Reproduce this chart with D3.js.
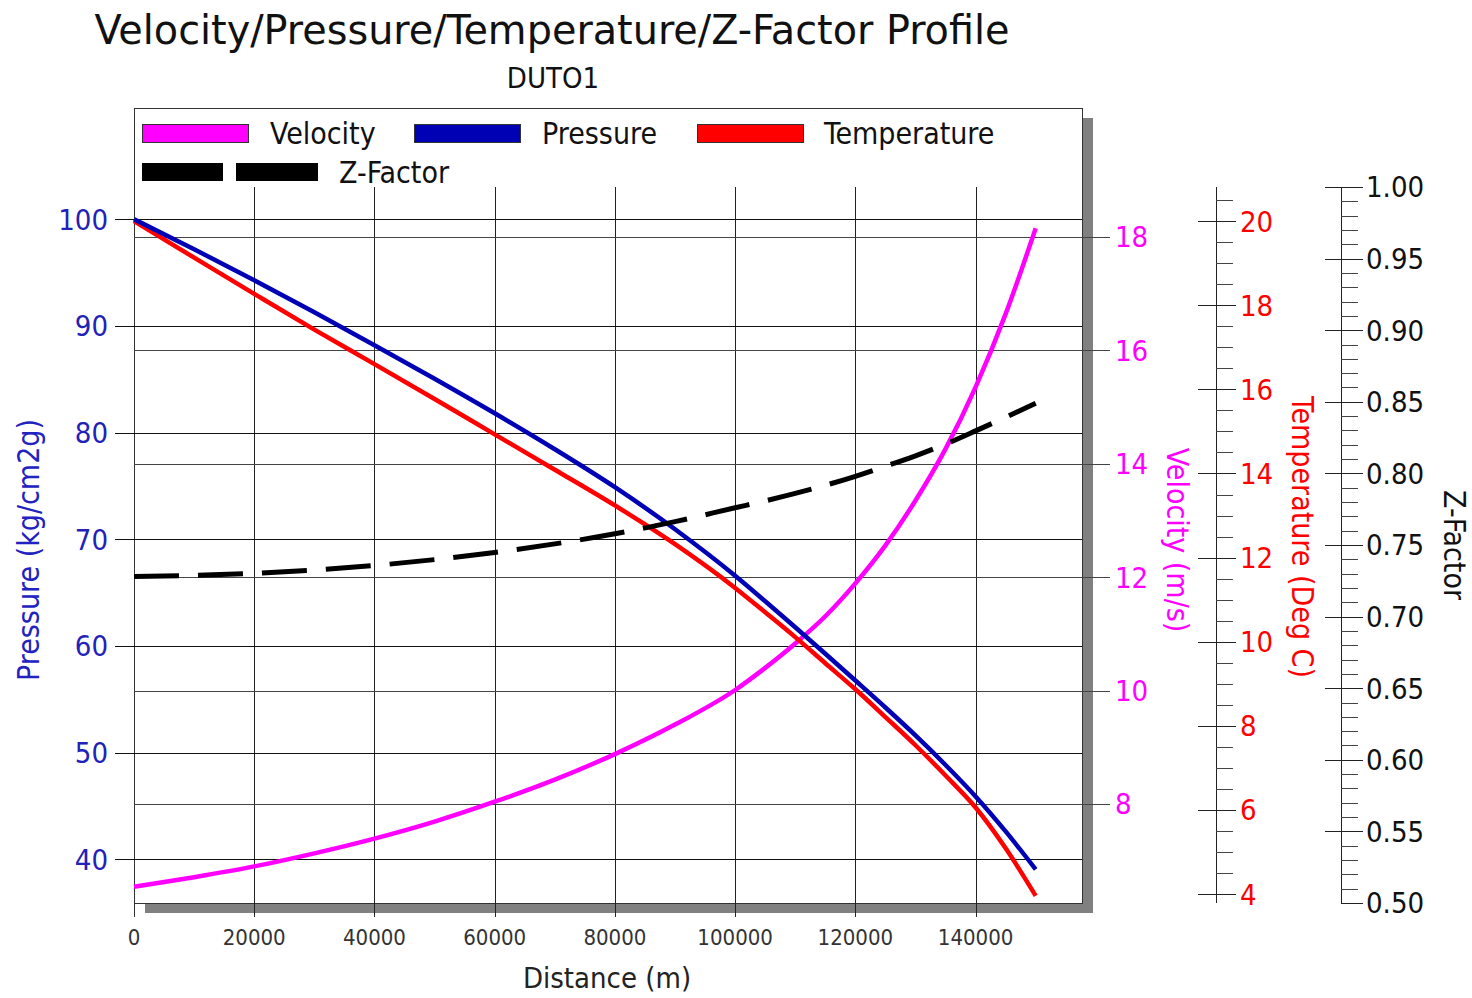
<!DOCTYPE html>
<html>
<head>
<meta charset="utf-8">
<script src="https://cdn.jsdelivr.net/npm/d3@7"></script>
<style>
  body { margin: 0; background: #fff; }
  svg { display: block; }
  text { font-family: 'DejaVu Sans Condensed', 'DejaVu Sans', sans-serif; }
</style>
</head>
<body>
<svg id="chart" width="1472" height="998"></svg>
<script>
// Profile along the pipeline, sampled by distance (m)
const distance    = [0, 10000, 20000, 30000, 40000, 50000, 60000, 70000, 80000, 90000,
                     100000, 105000, 110000, 115000, 120000, 125000, 130000, 135000, 140000, 145000, 150000];
const pressure    = [100.0, 97.19, 94.28, 91.28, 88.19, 85.05, 81.81, 78.44, 74.88, 70.94,
                     66.58, 64.19, 61.75, 59.27, 56.76, 54.23, 51.61, 48.84, 45.89, 42.61, 39.05];
const temperature = [20.0, 19.13, 18.27, 17.42, 16.6, 15.77, 14.93, 14.09, 13.24, 12.32,
                     11.28, 10.7, 10.11, 9.49, 8.87, 8.21, 7.54, 6.82, 6.06, 5.09, 3.96];
const velocity    = [6.54, 6.71, 6.9, 7.13, 7.39, 7.69, 8.04, 8.43, 8.88, 9.4,
                     10.01, 10.4, 10.83, 11.31, 11.89, 12.56, 13.35, 14.26, 15.35, 16.64, 18.15];
const zFactor     = [0.728, 0.7288, 0.7302, 0.7325, 0.7357, 0.7398, 0.7448, 0.7508, 0.7578, 0.7663,
                     0.776, 0.7808, 0.786, 0.7917, 0.798, 0.805, 0.8123, 0.8205, 0.8297, 0.8392, 0.849];

const xTicks           = [0, 20000, 40000, 60000, 80000, 100000, 120000, 140000];
const pressureTicks    = [40, 50, 60, 70, 80, 90, 100];
const velocityTicks    = [8, 10, 12, 14, 16, 18];
const temperatureTicks = [4, 6, 8, 10, 12, 14, 16, 18, 20];
const zTicks           = [0.50, 0.55, 0.60, 0.65, 0.70, 0.75, 0.80, 0.85, 0.90, 0.95, 1.00];

const COLORS = { Velocity: "#ff00ff", Pressure: "#0000b4", Temperature: "#ff0000", "Z-Factor": "#000000" };

const svg = d3.select("#chart");

// plot frame
const L = 134, R = 1082, T = 108, B = 903;
const axisTop = 187;   // top of the side axes and of the vertical grid

const x  = d3.scaleLinear().domain([0, 157700]).range([L, R]);
const yP = d3.scaleLinear().domain([35.9, 110.43]).range([B, T]);
const yV = d3.scaleLinear().domain([6.255, 20.27]).range([B, T]);
const yT = d3.scaleLinear().domain([3.79, 20.81]).range([B, axisTop]);
const yZ = d3.scaleLinear().domain([0.5, 1.0]).range([B, axisTop]);

const crisp = v => Math.round(v) + 0.5;

// titles
svg.append("text").attr("x", 552).attr("y", 44).attr("text-anchor", "middle")
  .attr("font-size", 41).attr("fill", "#111")
  .attr("textLength", 915).attr("lengthAdjust", "spacingAndGlyphs")
  .text("Velocity/Pressure/Temperature/Z-Factor Profile");
svg.append("text").attr("x", 553).attr("y", 88).attr("text-anchor", "middle")
  .attr("font-size", 29).attr("fill", "#111").text("DUTO1");

// drop shadow and plot background
svg.append("rect").attr("x", L + 11).attr("y", T + 10).attr("width", R - L).attr("height", B - T)
  .attr("fill", "#808080");
svg.append("rect").attr("x", L + 0.5).attr("y", T + 0.5).attr("width", R - L).attr("height", B - T)
  .attr("fill", "#fff").attr("stroke", "#333").attr("stroke-width", 1);

const grid = svg.append("g").attr("shape-rendering", "crispEdges");

// vertical grid, extending below the frame as ticks
grid.selectAll("line.vx").data(xTicks).join("line")
  .attr("x1", d => crisp(x(d))).attr("x2", d => crisp(x(d)))
  .attr("y1", axisTop).attr("y2", 917)
  .attr("stroke", "#222").attr("stroke-width", 1);
grid.append("line").attr("x1", crisp(L)).attr("x2", crisp(L)).attr("y1", T).attr("y2", 917)
  .attr("stroke", "#333");

// pressure grid with left ticks
grid.selectAll("line.p").data(pressureTicks).join("line")
  .attr("x1", 115).attr("x2", R)
  .attr("y1", d => crisp(yP(d))).attr("y2", d => crisp(yP(d)))
  .attr("stroke", "#111");

// velocity grid with right ticks
grid.selectAll("line.v").data(velocityTicks).join("line")
  .attr("x1", L).attr("x2", 1110)
  .attr("y1", d => crisp(yV(d))).attr("y2", d => crisp(yV(d)))
  .attr("stroke", "#444");

// x tick labels
svg.append("g").selectAll("text").data(xTicks).join("text")
  .attr("x", d => x(d)).attr("y", 945).attr("text-anchor", "middle")
  .attr("font-size", 22).attr("fill", "#333").text(d => d);

// pressure labels
svg.append("g").selectAll("text").data(pressureTicks).join("text")
  .attr("x", 108).attr("y", d => yP(d)).attr("dy", "0.36em").attr("text-anchor", "end")
  .attr("font-size", 29).attr("fill", "#2222b8").text(d => d);

// velocity labels
svg.append("g").selectAll("text").data(velocityTicks).join("text")
  .attr("x", 1115).attr("y", d => yV(d)).attr("dy", "0.36em").attr("text-anchor", "start")
  .attr("font-size", 29).attr("fill", "#ff00ff").text(d => d);

// temperature axis
const tAxisX = 1216;
const tg = svg.append("g").attr("shape-rendering", "crispEdges");
tg.append("line").attr("x1", tAxisX + 0.5).attr("x2", tAxisX + 0.5).attr("y1", axisTop).attr("y2", B)
  .attr("stroke", "#222");
tg.selectAll("line.minor").data(d3.range(4, 20.81, 0.5).filter(v => v % 2 !== 0)).join("line")
  .attr("x1", tAxisX).attr("x2", tAxisX + 17)
  .attr("y1", d => crisp(yT(d))).attr("y2", d => crisp(yT(d))).attr("stroke", "#444");
tg.selectAll("line.major").data(temperatureTicks).join("line")
  .attr("x1", tAxisX - 18).attr("x2", tAxisX + 20)
  .attr("y1", d => crisp(yT(d))).attr("y2", d => crisp(yT(d))).attr("stroke", "#222");
svg.append("g").selectAll("text").data(temperatureTicks).join("text")
  .attr("x", 1240).attr("y", d => yT(d)).attr("dy", "0.36em")
  .attr("font-size", 29).attr("fill", "#ff0000").text(d => d);

// z-factor axis
const zAxisX = 1341;
const zg = svg.append("g").attr("shape-rendering", "crispEdges");
zg.append("line").attr("x1", zAxisX + 0.5).attr("x2", zAxisX + 0.5).attr("y1", axisTop).attr("y2", B)
  .attr("stroke", "#222");
zg.selectAll("line.minor").data(d3.range(50, 101).filter(v => v % 5 !== 0).map(v => v / 100)).join("line")
  .attr("x1", zAxisX).attr("x2", zAxisX + 17)
  .attr("y1", d => crisp(yZ(d))).attr("y2", d => crisp(yZ(d))).attr("stroke", "#444");
zg.selectAll("line.major").data(zTicks).join("line")
  .attr("x1", d => d === 0.5 ? zAxisX : zAxisX - 16).attr("x2", zAxisX + 22)
  .attr("y1", d => crisp(yZ(d))).attr("y2", d => crisp(yZ(d))).attr("stroke", "#222");
svg.append("g").selectAll("text").data(zTicks).join("text")
  .attr("x", 1366).attr("y", d => yZ(d)).attr("dy", "0.36em")
  .attr("font-size", 29).attr("fill", "#111").text(d => d.toFixed(2));

// axis titles
svg.append("text").attr("x", 607).attr("y", 988).attr("text-anchor", "middle")
  .attr("font-size", 29).attr("fill", "#222").text("Distance (m)");
const vtitle = (tx, ty, rot, color, label) =>
  svg.append("text").attr("transform", `translate(${tx},${ty}) rotate(${rot})`)
    .attr("text-anchor", "middle").attr("dy", "0.36em")
    .attr("font-size", 30).attr("fill", color).text(label);
vtitle(28, 550, -90, "#2222c0", "Pressure (kg/cm2g)");
vtitle(1178, 540, 90, "#ff00ff", "Velocity (m/s)");
vtitle(1303, 537, 90, "#ff0000", "Temperature (Deg C)");
vtitle(1455, 545, 90, "#111", "Z-Factor");

// series lines
const rows = distance.map((d, i) => ({ d, p: pressure[i], t: temperature[i], v: velocity[i], z: zFactor[i] }));
const lineOf = (yScale, key) => d3.line().x(r => x(r.d)).y(r => yScale(r[key])).curve(d3.curveMonotoneX);

const lines = svg.append("g").attr("fill", "none").attr("stroke-linejoin", "round");
lines.append("path").datum(rows).attr("d", lineOf(yV, "v"))
  .attr("stroke", COLORS.Velocity).attr("stroke-width", 4.5);
lines.append("path").datum(rows).attr("d", lineOf(yT, "t"))
  .attr("stroke", COLORS.Temperature).attr("stroke-width", 4.5);
lines.append("path").datum(rows).attr("d", lineOf(yP, "p"))
  .attr("stroke", COLORS.Pressure).attr("stroke-width", 4.5);
lines.append("path").datum(rows).attr("d", lineOf(yZ, "z"))
  .attr("stroke", COLORS["Z-Factor"]).attr("stroke-width", 5).attr("stroke-dasharray", "45,19");

// legend
const legend = svg.append("g");
const legendPos = [
  { name: "Velocity", sx: 142, tx: 270, y: 124 },
  { name: "Pressure", sx: 414, tx: 542, y: 124 },
  { name: "Temperature", sx: 697, tx: 824, y: 124 },
  { name: "Z-Factor", sx: 142, tx: 339, y: 163 }
];
legendPos.forEach(item => {
  if (item.name === "Z-Factor") {
    legend.append("rect").attr("x", item.sx).attr("y", item.y).attr("width", 81).attr("height", 18)
      .attr("fill", COLORS[item.name]);
    legend.append("rect").attr("x", item.sx + 94).attr("y", item.y).attr("width", 82).attr("height", 18)
      .attr("fill", COLORS[item.name]);
  } else {
    legend.append("rect").attr("x", item.sx + 0.5).attr("y", item.y + 0.5).attr("width", 106).attr("height", 18)
      .attr("fill", COLORS[item.name]).attr("stroke", "#333");
  }
  legend.append("text").attr("x", item.tx).attr("y", item.y + 9).attr("dy", "0.36em")
    .attr("font-size", 30).attr("fill", "#111").text(item.name);
});
</script>
</body>
</html>
